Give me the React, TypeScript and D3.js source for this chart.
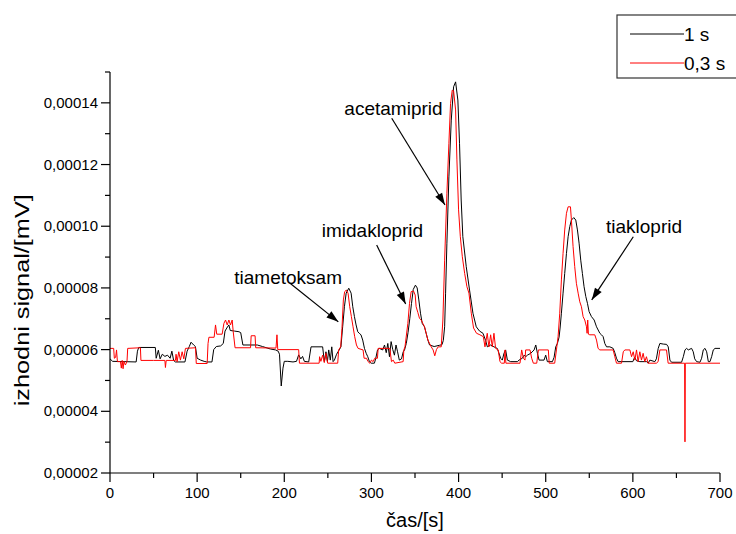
import React from "react";
import * as d3 from "d3";

// signal values are given in units of 1e-5 mV
const UNIT = 1e-5;

const series1s: [number, number][] = [
  [0, 5.7], [3, 5.62], [30, 5.6], [31.5, 5.95], [33, 6.07], [52, 6.07], [53, 5.72], [55.5, 5.98],
  [57.5, 5.7], [60, 5.85], [63, 5.78], [66, 5.82], [69, 5.72], [71, 5.95], [73, 5.65], [75, 5.6],
  [86, 5.6], [88.5, 5.95], [91, 6.1], [93, 6.24], [96, 6.15], [98, 6.1], [100, 5.72], [104, 5.66],
  [108, 5.62], [111, 5.6], [117, 5.6], [119, 6.0], [122, 6.1], [127, 6.12], [130, 6.2], [132, 6.6],
  [134, 6.7], [136.4, 6.8], [138, 6.62], [143, 6.6], [148, 6.58], [150, 6.55], [152.5, 6.15],
  [169, 6.15], [175, 6.1], [184, 6.02], [190, 5.99], [193, 5.95], [194.5, 5.85], [196.5, 4.82],
  [198.5, 5.4], [200, 5.62], [204, 5.62], [210, 5.6], [214, 5.62], [216.5, 5.83], [219, 5.7],
  [221, 5.78], [223, 5.62], [228, 5.6], [230.7, 6.09], [244, 6.09], [246, 5.61], [247.8, 5.93],
  [249.5, 5.61], [251, 5.99], [252.8, 5.66], [254.5, 6.09], [256, 5.61], [257.5, 5.66], [260, 5.85],
  [263, 5.99], [265, 6.09], [267, 6.74], [269, 7.39], [271, 7.83], [274, 7.99], [276.7, 7.83],
  [278.6, 7.39], [280.5, 7.07], [282.4, 6.8], [284.3, 6.58], [286, 6.53], [288, 6.48], [290, 6.31],
  [292, 6.04], [294, 5.88], [295.8, 5.77], [297.7, 5.61], [299.6, 5.56], [303.4, 5.56], [305, 5.72],
  [307, 5.99], [309, 6.04], [313, 5.99], [315, 6.15], [317, 5.9], [318.8, 6.2], [320.7, 5.77],
  [322.6, 6.26], [324.5, 6.0], [326.4, 5.82], [328.2, 6.15], [330, 5.93], [332, 5.66], [334.5, 5.7],
  [336.5, 5.93], [338, 5.99], [340, 6.2], [342, 6.55], [344, 7.0], [346, 7.5], [348, 7.95],
  [350.5, 8.09], [352.5, 8.0], [354.4, 7.61], [356.3, 7.18], [358.3, 6.85], [360.9, 6.74],
  [362.8, 6.53], [364.8, 6.31], [366.7, 6.15], [372, 6.1], [378, 6.14], [381, 6.16], [382.5, 6.3],
  [384, 6.74], [385.1, 7.83], [386.6, 9.45], [388.9, 11.6], [391.6, 13.44], [394.3, 14.52],
  [396.6, 14.68], [399.2, 14.09], [401.1, 12.69], [403, 10.85], [404.9, 9.66], [408.8, 8.69],
  [412.6, 7.93], [416.5, 7.18], [420.3, 6.74], [424.1, 6.6], [428, 6.53], [431, 6.3], [433, 6.09],
  [436.8, 6.15], [440.6, 6.09], [444.4, 6.04], [448.3, 5.72], [450.2, 5.66], [452.1, 5.88],
  [454, 5.99], [456, 5.66], [459.8, 5.61], [467.5, 5.61], [469.4, 5.66], [473.2, 5.72],
  [475.2, 5.82], [477.1, 5.77], [479, 5.82], [482.8, 5.88], [486.7, 5.99], [488.6, 6.15],
  [490.5, 5.88], [492.4, 5.66], [498.1, 5.66], [500, 5.82], [501.9, 5.61], [507.7, 5.61],
  [509.6, 5.75], [511.5, 6.09], [513.4, 6.2], [515.3, 6.4], [516.5, 6.7], [518, 7.18], [519.9, 7.83],
  [521.8, 8.47], [523.8, 9.12], [525.7, 9.66], [527.6, 9.99], [529.5, 10.2], [532.2, 10.28],
  [534.5, 10.2], [536.4, 9.88], [538.3, 9.45], [540.2, 8.9], [542.1, 8.47], [544, 8.04], [546, 7.72],
  [547.9, 7.5], [549.8, 7.23], [552.5, 7.07], [555.6, 6.96], [558.3, 6.74], [562.1, 6.53],
  [564, 6.48], [565.9, 6.42], [567.8, 6.2], [569.8, 6.09], [573.6, 6.09], [577.4, 6.04],
  [579.3, 5.9], [581.2, 5.72], [583.1, 5.61], [600, 5.61], [602, 5.75], [604.2, 5.64], [608, 5.61],
  [615.7, 5.61], [617.6, 5.56], [619.5, 5.66], [625.2, 5.61], [627, 5.7], [629.1, 6.04], [631, 6.2],
  [634.9, 6.18], [638.7, 6.17], [640.6, 6.09], [642.5, 5.66], [644.4, 5.59], [655.9, 5.59],
  [657.9, 5.77], [659.8, 5.99], [661.7, 6.04], [663.6, 5.99], [667.4, 6.04], [669.3, 5.93],
  [671, 5.7], [673.2, 5.61], [677, 5.59], [678.9, 5.72], [680.8, 5.99], [682.8, 6.04], [684.7, 5.93],
  [686.6, 5.61], [688.5, 5.61], [690.4, 5.77], [692.3, 5.99], [694.3, 6.04], [700, 6.04],
];

const series03s: [number, number][] = [
  [0, 6.04], [4.2, 6.04], [5, 5.72], [6.5, 5.75], [7.5, 5.99], [8.5, 5.61], [12, 5.61], [13, 5.4],
  [14, 5.65], [15, 5.38], [16, 5.62], [17.6, 5.5], [19.5, 5.61], [20.3, 6.04], [34.9, 6.06],
  [35.5, 5.65], [50, 5.65], [63, 5.65], [63.6, 5.42], [64.5, 5.65], [75.1, 5.65], [75.8, 5.85],
  [77, 5.61], [78.9, 5.93], [80.8, 5.66], [82.8, 5.93], [84.7, 5.7], [86.6, 6.04], [98.1, 6.06],
  [99, 5.55], [111.5, 5.55], [112.5, 6.2], [113.5, 6.4], [119.5, 6.4], [121.1, 6.8], [122.5, 6.5],
  [128.7, 6.5], [130.7, 6.85], [132.6, 6.96], [134.5, 6.8], [136.4, 6.96], [138.3, 6.8],
  [140.2, 6.96], [141.4, 6.58], [143.5, 6.06], [161.3, 6.06], [162, 6.45], [166.5, 6.45],
  [167.2, 6.06], [190.5, 6.05], [191.6, 6.48], [192.5, 6.0], [216.5, 6.0], [217.4, 5.56],
  [240, 5.56], [240.5, 5.77], [242, 5.62], [244, 5.82], [245.9, 5.58], [247.8, 5.88], [249.8, 5.56],
  [261.3, 5.56], [262.4, 5.99], [264.7, 6.09], [266.2, 6.69], [267.8, 7.61], [269.3, 7.88],
  [271.2, 7.93], [273.2, 7.83], [275.1, 7.39], [277, 7.07], [278.9, 6.74], [280.8, 6.42],
  [282.8, 6.15], [284.7, 6.04], [290.4, 5.99], [291.6, 5.72], [294.3, 5.72], [296.2, 5.61],
  [298.1, 5.56], [300, 5.66], [301.9, 5.61], [303.8, 5.72], [306.9, 5.72], [307.7, 6.04],
  [321.1, 6.04], [323, 5.61], [325, 5.66], [326.8, 5.56], [336.4, 5.61], [337.2, 5.99],
  [338.5, 6.09], [341.8, 6.85], [343.7, 7.5], [345.6, 7.88], [348.3, 7.9], [350.2, 7.77],
  [351.3, 7.39], [353.3, 7.2], [355.2, 7.01], [357.1, 6.96], [359, 6.85], [360.9, 6.74],
  [362.8, 6.53], [364.8, 6.31], [366.7, 6.2], [368.6, 6.09], [370.8, 5.99], [372.7, 5.8],
  [374.6, 6.0], [376.6, 6.09], [380.1, 6.09], [382, 6.96], [384, 8.9], [386.6, 11.07],
  [388.9, 12.69], [390.8, 13.98], [392.7, 14.41], [394.3, 14.39], [396.6, 13.77], [398.1, 12.15],
  [400, 10.53], [402, 9.66], [404.3, 9.01], [407, 8.47], [409.6, 8.04], [411.9, 7.83], [414.6, 7.18],
  [417.2, 6.7], [420.6, 6.53], [424.5, 6.48], [428.4, 6.42], [430.3, 6.09], [432.9, 6.53],
  [434.8, 6.09], [436.8, 6.48], [438.7, 6.09], [440.6, 6.53], [442.5, 6.04], [445.5, 5.99],
  [447.5, 5.61], [449.4, 5.56], [452.5, 5.56], [453.3, 5.99], [454.3, 5.56], [470.5, 5.56],
  [472.4, 5.99], [474.4, 5.72], [476.2, 5.66], [477, 5.99], [482, 5.99], [483.9, 5.72],
  [485.8, 5.56], [489.7, 5.56], [491.6, 5.99], [503, 5.99], [504, 5.56], [510.3, 5.56],
  [512.3, 5.99], [514.2, 6.42], [516.1, 7.18], [518, 8.26], [519.9, 9.12], [521.8, 9.88],
  [523.8, 10.42], [525.7, 10.63], [528.4, 10.63], [529.5, 10.2], [531.4, 9.34], [533.3, 8.69],
  [535.2, 8.15], [537.2, 7.83], [539.1, 7.55], [541, 7.39], [542.9, 7.07], [544.8, 6.96],
  [546.8, 6.74], [547.5, 6.53], [548.2, 6.96], [549, 6.5], [550.6, 6.48], [556.3, 6.48],
  [558.3, 6.31], [560.1, 6.04], [562.1, 5.99], [577.4, 5.99], [579.3, 5.77], [581.2, 5.56],
  [587, 5.56], [589, 5.93], [590.8, 5.99], [596.6, 5.99], [598.5, 5.77], [600.4, 5.93],
  [602.3, 5.66], [604.2, 5.99], [606, 5.61], [608, 5.93], [609.9, 5.66], [611.8, 5.88],
  [613.7, 5.61], [615.6, 5.77], [617.5, 5.56], [627, 5.56], [629, 5.61], [631, 5.99], [638.6, 5.99],
  [640.5, 5.56], [659.4, 5.56], [659.8, 3.01], [660.2, 5.56], [700, 5.56],
];

const seriesNames = ["1 s", "0,3 s"];
const seriesColors = ["#000000", "#ff0000"];

const xMajorTicks = [0, 100, 200, 300, 400, 500, 600, 700];
const xMinorTicks = [50, 150, 250, 350, 450, 550, 650];
const yMajorTicks = [2, 4, 6, 8, 10, 12, 14];
const yMinorTicks = [3, 5, 7, 9, 11, 13, 15];

// annotations: label, label anchor (time, signal), arrow start, arrow end (data units)
const annotationLabels = ["tiametoksam", "imidakloprid", "acetamiprid", "tiakloprid"];
const annotationText: [number, number][] = [[204.4, 8.13], [301.2, 9.66], [325.3, 13.61], [612.8, 9.79]];
const annotationFrom: [number, number][] = [[206.6, 8.15], [306, 9.39], [323.3, 13.5], [600.5, 9.66]];
const annotationTo: [number, number][] = [[262, 6.9], [339.3, 7.48], [384.4, 10.69], [552.8, 7.61]];

const FONT = "'Liberation Sans', Arial, Helvetica, sans-serif";

export default function App() {
  const W = 736, H = 534;
  const x = d3.scaleLinear().domain([0, 700]).range([110, 720]);
  const y = d3.scaleLinear().domain([2 * UNIT, 15 * UNIT]).range([473, 72]);
  const fmt = (v: number) => d3.format(".5f")(v * UNIT).replace(".", ",");

  const line = d3
    .line<[number, number]>()
    .x((d) => x(d[0]))
    .y((d) => y(d[1] * UNIT));

  const x0 = x(0), x1 = x(700), yB = y(2 * UNIT), yT = y(15 * UNIT);

  const arrowHead = (fx: number, fy: number, tx: number, ty: number) => {
    const ang = Math.atan2(ty - fy, tx - fx);
    const len = 12, half = 4;
    const bx = tx - len * Math.cos(ang), by = ty - len * Math.sin(ang);
    const px = -Math.sin(ang) * half, py = Math.cos(ang) * half;
    return `M${tx},${ty}L${bx + px},${by + py}L${bx - px},${by - py}Z`;
  };

  return (
    <svg width={W} height={H} style={{ position: "absolute", left: 0, top: 0, background: "#fff" }}>
      <rect x={0} y={0} width={W} height={H} fill="#fff" />
      {/* data lines */}
      <path d={line(series1s) || ""} fill="none" stroke={seriesColors[0]} strokeWidth={1} />
      <path d={line(series03s) || ""} fill="none" stroke={seriesColors[1]} strokeWidth={1} />

      {/* axes */}
      <g stroke="#000" strokeWidth={1.2} fill="none">
        <line x1={x0} y1={yT} x2={x0} y2={yB} />
        <line x1={x0} y1={yB} x2={x1} y2={yB} />
        {xMajorTicks.map((t) => (
          <line key={"xm" + t} x1={x(t)} x2={x(t)} y1={yB} y2={yB + 9} />
        ))}
        {xMinorTicks.map((t) => (
          <line key={"xn" + t} x1={x(t)} x2={x(t)} y1={yB} y2={yB + 5} />
        ))}
        {yMajorTicks.map((t) => (
          <line key={"ym" + t} x1={x0 - 9} x2={x0} y1={y(t * UNIT)} y2={y(t * UNIT)} />
        ))}
        {yMinorTicks.map((t) => (
          <line key={"yn" + t} x1={x0 - 5} x2={x0} y1={y(t * UNIT)} y2={y(t * UNIT)} />
        ))}
      </g>
      <g fontFamily={FONT} fontSize={15} fill="#000">
        {xMajorTicks.map((t) => (
          <text key={"xl" + t} x={x(t)} y={yB + 25} textAnchor="middle">
            {t}
          </text>
        ))}
        {yMajorTicks.map((t) => (
          <text key={"yl" + t} x={x0 - 12} y={y(t * UNIT) + 5} textAnchor="end">
            {fmt(t)}
          </text>
        ))}
      </g>
      <text x={(x0 + x1) / 2} y={527} textAnchor="middle" fontFamily={FONT} fontSize={20}>
        čas/[s]
      </text>
      <text
        transform={`translate(29,${y(7.6 * UNIT)}) rotate(-90)`}
        textAnchor="middle"
        fontFamily={FONT}
        fontSize={20}
        textLength={212}
        lengthAdjust="spacingAndGlyphs"
      >
        izhodni signal/[mV]
      </text>

      {/* annotations */}
      <g fontFamily={FONT} fontSize={19} fill="#000">
        {annotationLabels.map((lab, i) => {
          const fx = x(annotationFrom[i][0]), fy = y(annotationFrom[i][1] * UNIT);
          const tx = x(annotationTo[i][0]), ty = y(annotationTo[i][1] * UNIT);
          return (
            <g key={lab}>
              <text x={x(annotationText[i][0])} y={y(annotationText[i][1] * UNIT)} textAnchor="middle">
                {lab}
              </text>
              <line x1={fx} y1={fy} x2={tx} y2={ty} stroke="#000" strokeWidth={1.2} />
              <path d={arrowHead(fx, fy, tx, ty)} fill="#000" stroke="none" />
            </g>
          );
        })}
      </g>

      {/* legend */}
      <rect x={617} y={15} width={140} height={63} fill="#fff" stroke="#333" strokeWidth={1.2} />
      {seriesNames.map((n, i) => (
        <g key={n}>
          <line x1={630} x2={684} y1={34 + i * 29} y2={34 + i * 29} stroke={seriesColors[i]} strokeWidth={1} />
          <text x={684} y={41 + i * 29} fontFamily={FONT} fontSize={19}>
            {n}
          </text>
        </g>
      ))}
    </svg>
  );
}
